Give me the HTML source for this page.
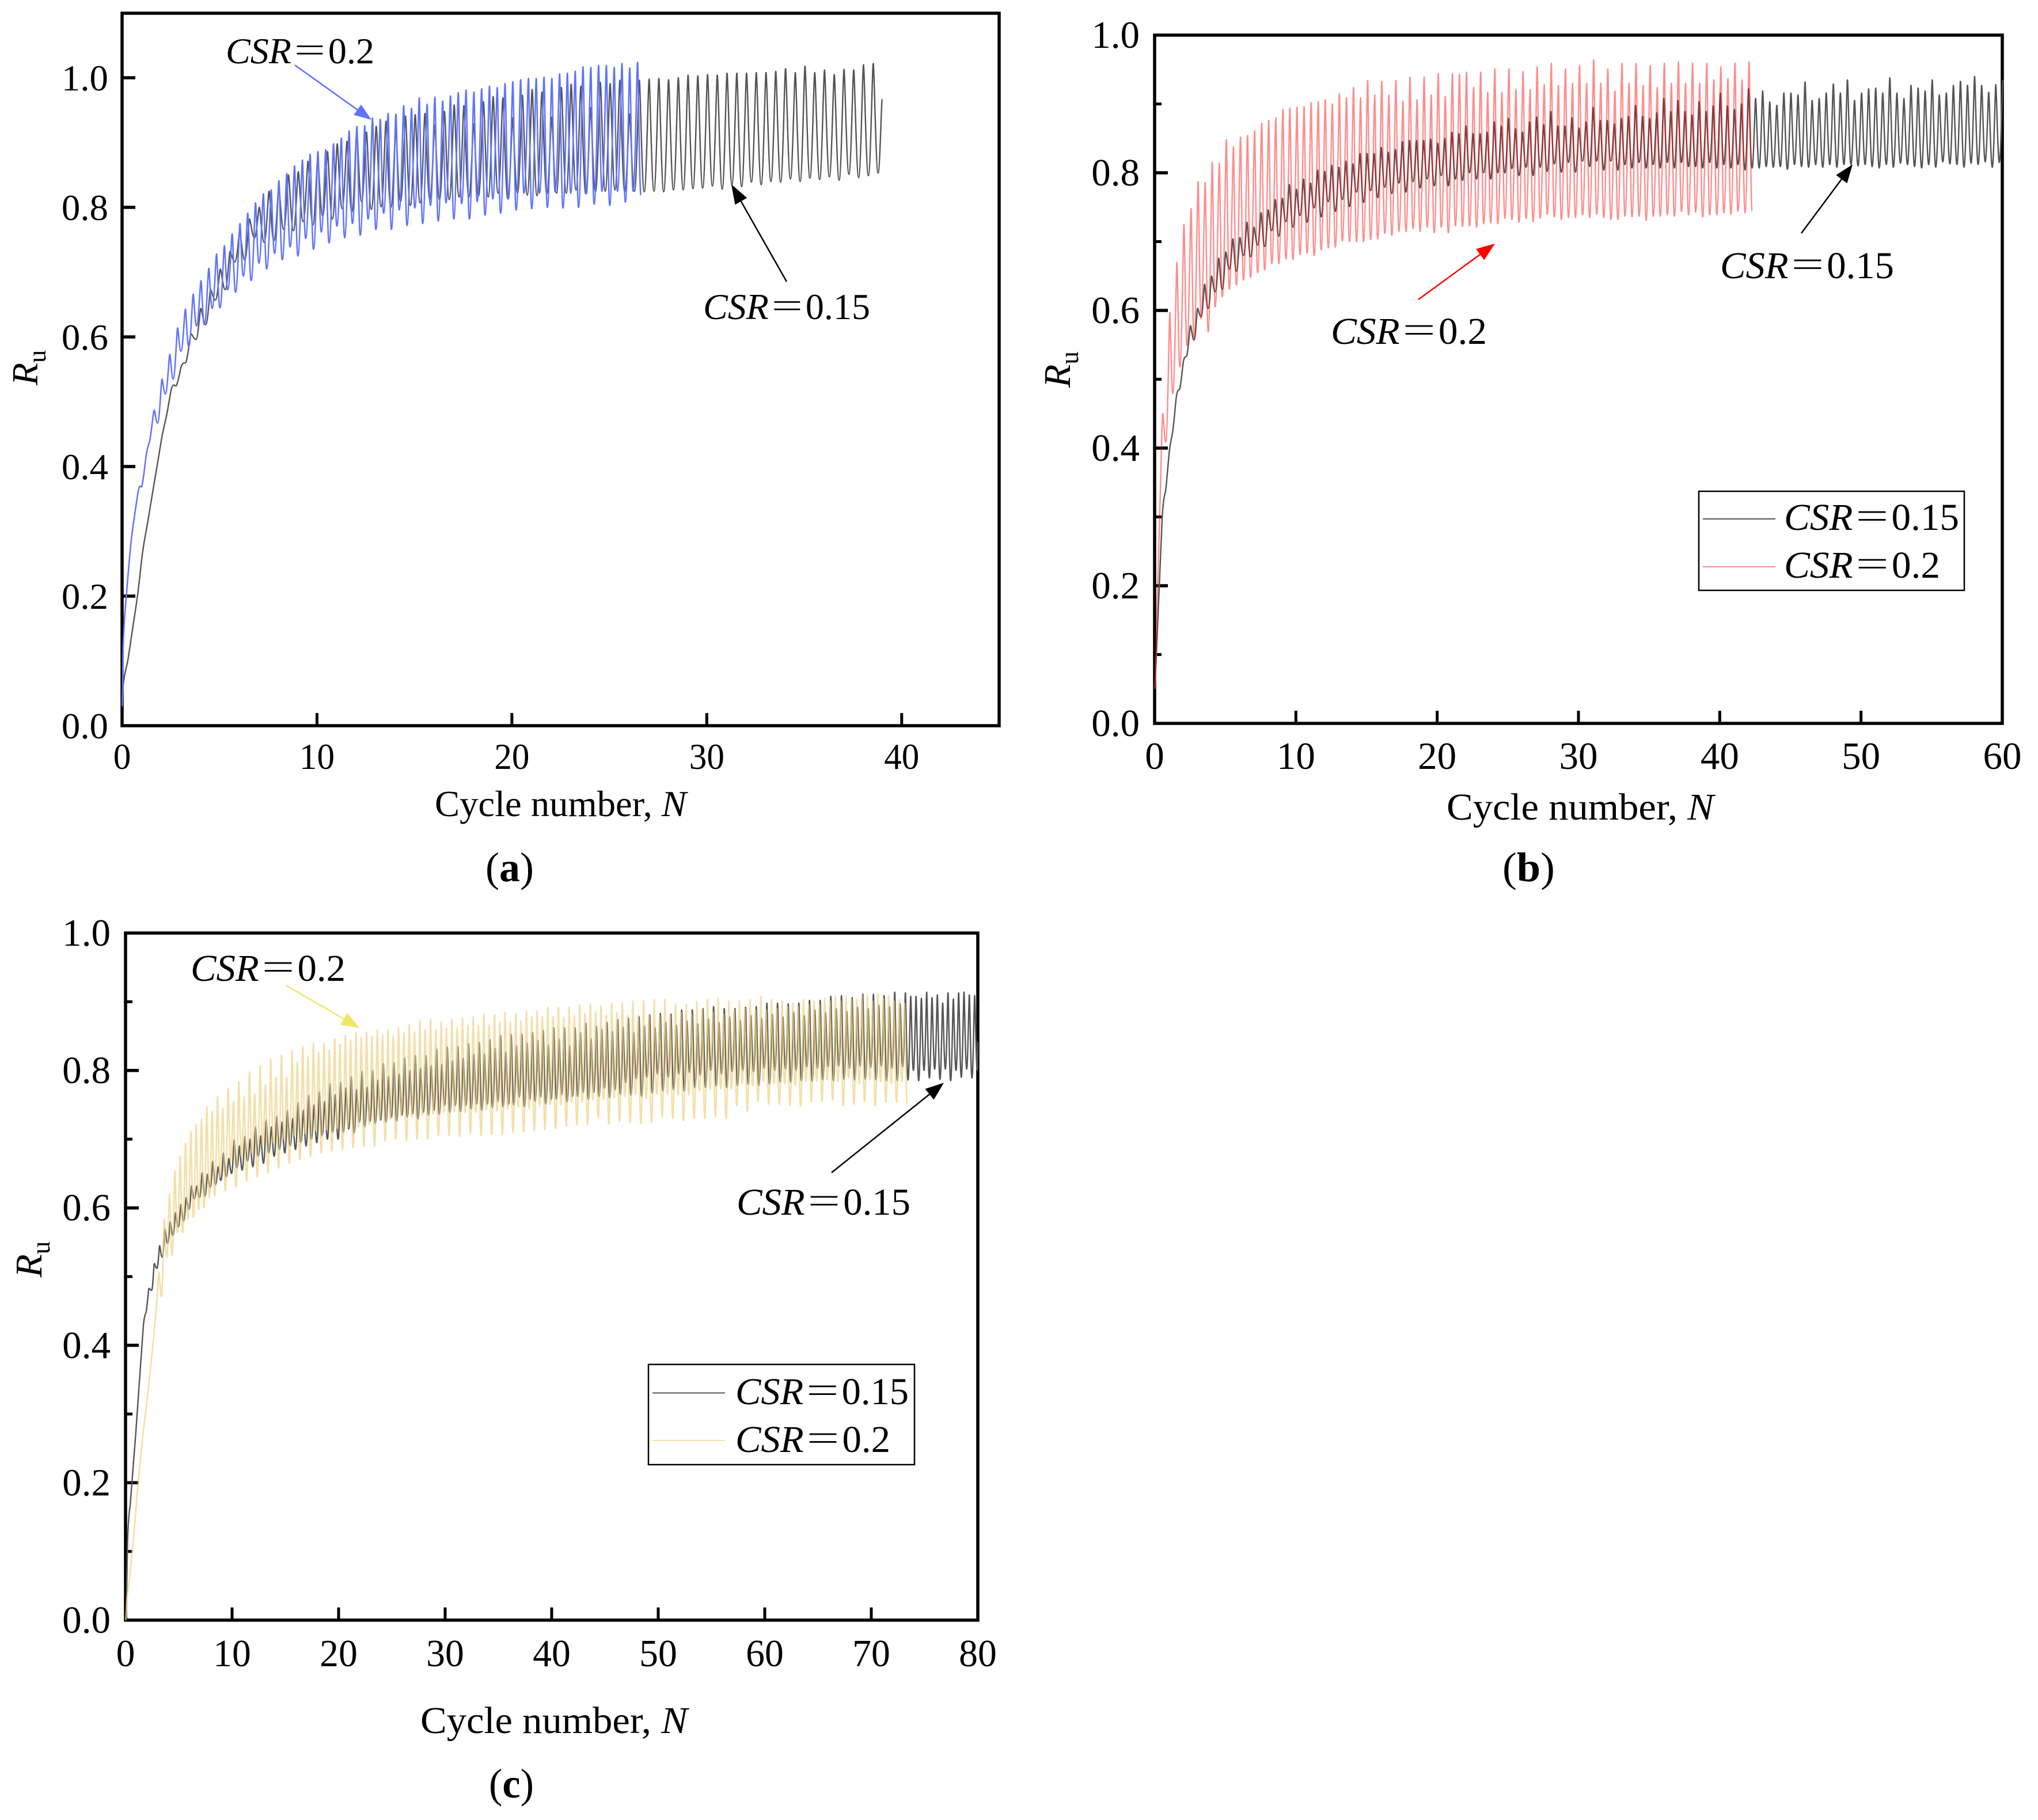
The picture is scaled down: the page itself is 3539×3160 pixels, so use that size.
<!DOCTYPE html>
<html lang="en">
<head>
<meta charset="utf-8">
<title>Pore pressure ratio versus cycle number</title>
<style>
html,body{margin:0;padding:0;background:#fff;width:3539px;height:3160px;overflow:hidden}
svg{display:block}
text{font-family:"Liberation Serif","Noto Serif CJK SC",serif;fill:#000}
.i{font-style:italic}
.b{font-weight:bold}
</style>
</head>
<body>
<svg id="figure" xmlns="http://www.w3.org/2000/svg" width="3539" height="3160" viewBox="0 0 3539 3160">
<rect x="0" y="0" width="3539" height="3160" fill="#fff"/>
<g id="panel-a"></g>
<g id="panel-b"></g>
<g id="panel-c"></g>

<text x="755" y="1417" font-size="63" textLength="437" lengthAdjust="spacingAndGlyphs">Cycle number, <tspan class="i">N</tspan></text>
<text x="2512" y="1423" font-size="66" textLength="464" lengthAdjust="spacingAndGlyphs">Cycle number, <tspan class="i">N</tspan></text>
<text x="730" y="3009" font-size="66" textLength="464" lengthAdjust="spacingAndGlyphs">Cycle number, <tspan class="i">N</tspan></text>

<text transform="translate(65 669) rotate(-90)" font-size="64"><tspan class="i">R</tspan><tspan font-size="44" dy="14">u</tspan></text>
<text transform="translate(1858 673) rotate(-90)" font-size="66"><tspan class="i">R</tspan><tspan font-size="45" dy="14">u</tspan></text>
<text transform="translate(72 2218) rotate(-90)" font-size="66"><tspan class="i">R</tspan><tspan font-size="45" dy="14">u</tspan></text>

<text x="843" y="1530" font-size="72" textLength="84" lengthAdjust="spacingAndGlyphs">(<tspan class="b">a</tspan>)</text>
<text x="2609" y="1530" font-size="72" textLength="91" lengthAdjust="spacingAndGlyphs">(<tspan class="b">b</tspan>)</text>
<text x="849" y="3121" font-size="72" textLength="78" lengthAdjust="spacingAndGlyphs">(<tspan class="b">c</tspan>)</text>

<text x="392" y="110" font-size="63" textLength="258" lengthAdjust="spacingAndGlyphs"><tspan class="i">CSR</tspan>＝0.2</text>
<text x="1221" y="554" font-size="63" textLength="290" lengthAdjust="spacingAndGlyphs"><tspan class="i">CSR</tspan>＝0.15</text>
<text x="2311" y="597" font-size="66" textLength="271" lengthAdjust="spacingAndGlyphs"><tspan class="i">CSR</tspan>＝0.2</text>
<text x="2987" y="483" font-size="66" textLength="302" lengthAdjust="spacingAndGlyphs"><tspan class="i">CSR</tspan>＝0.15</text>
<text x="331" y="1703" font-size="66" textLength="269" lengthAdjust="spacingAndGlyphs"><tspan class="i">CSR</tspan>＝0.2</text>
<text x="1279" y="2109" font-size="66" textLength="302" lengthAdjust="spacingAndGlyphs"><tspan class="i">CSR</tspan>＝0.15</text>

<g>
<rect x="2950" y="853" width="461" height="172" fill="none" stroke="#000" stroke-width="2.5"/>
<line x1="2957" y1="901" x2="3083" y2="901" stroke="#555" stroke-width="2"/>
<line x1="2957" y1="984" x2="3083" y2="984" stroke="#ff8c8c" stroke-width="2"/>
<text x="3098" y="920" font-size="66" textLength="304" lengthAdjust="spacingAndGlyphs"><tspan class="i">CSR</tspan>＝0.15</text>
<text x="3098" y="1003" font-size="66" textLength="271" lengthAdjust="spacingAndGlyphs"><tspan class="i">CSR</tspan>＝0.2</text>
</g>
<g>
<rect x="1126" y="2369" width="462" height="174" fill="none" stroke="#000" stroke-width="2.5"/>
<line x1="1133" y1="2418.5" x2="1259" y2="2418.5" stroke="#555" stroke-width="2"/>
<line x1="1133" y1="2501" x2="1259" y2="2501" stroke="#f5dfa8" stroke-width="2"/>
<text x="1277" y="2438" font-size="66" textLength="301" lengthAdjust="spacingAndGlyphs"><tspan class="i">CSR</tspan>＝0.15</text>
<text x="1277" y="2521" font-size="66" textLength="269" lengthAdjust="spacingAndGlyphs"><tspan class="i">CSR</tspan>＝0.2</text>
</g>
</svg>

<script>
// Tick labels
const ruTicksA = [0, 0.2, 0.4, 0.6, 0.8, 1.0];
const ruTicks = [0, 0.2, 0.4, 0.6, 0.8, 1.0];
const ruMinorTicks = [0.1, 0.3, 0.5, 0.7, 0.9];
const cycleTicksA = [0, 10, 20, 30, 40];
const cycleTicksB = [0, 10, 20, 30, 40, 50, 60];
const cycleTicksC = [0, 10, 20, 30, 40, 50, 60, 70, 80];

// Panel (a): per-half-cycle extreme values
const aBlackPeaks = [.06,.15,.265,.355,.445,.521,.555,.605,.644,.673,.705,.732,.762,.782,.8,.825,.83,.85,.855,.871,.875,.886,.898,.902,.918,.916,
.925,.933,.92,.941,.943,.945,.927,.948,.958,.957,.929,.963,.971,.969,.938,.973,.982,.978,.939,.985,.99,.987,.954,.993,.991,.996,.944,.996,.998,
.999,.997,1.0,1.004,1.003,1.005,1.004,1.007,1.007,1.007,1.008,1.008,1.01,1.014,1.008,1.018,1.008,1.012,1.005,1.013,1.012,1.02,1.022];
const aBlackTroughs = [.1,.2,.31,.4,.48,.525,.562,.596,.619,.657,.673,.716,.719,.753,.746,.748,.766,.764,.778,.773,.787,.782,.798,.793,.809,
.797,.801,.8,.809,.803,.807,.812,.812,.812,.816,.816,.818,.816,.822,.813,.822,.819,.818,.821,.822,.822,.827,.821,.824,.825,.827,.824,.825,.824,.825,
.824,.827,.827,.829,.83,.833,.828,.835,.832,.839,.835,.84,.839,.844,.84,.845,.843,.847,.842,.851,.846,.849,.853];
const aBluePeaks = [.12,.28,.365,.42,.487,.535,.573,.614,.643,.666,.687,.706,.728,.741,.759,.775,.791,.807,.821,.827,.841,.852,.864,.873,.882,.886,.889,.898,.907,.918,.925,.926,
.938,.936,.945,.944,.957,.953,.969,.959,.97,.964,.972,.977,.981,.978,.983,.987,.985,.991,.994,.997,.999,.999,1.001,.999,1.006,1.007,1.01,1.017,1.016,1.019,1.019,1.016,1.022,1.015,1.024];
const aBlueTroughs = [.2,.32,.37,.44,.467,.512,.535,.578,.585,.617,.619,.644,.645,.673,.669,.694,.687,.714,.705,.729,.719,.739,.725,.752,.735,.762,.745,.771,.753,.775,.757,.782,
.766,.791,.766,.796,.772,.799,.775,.803,.779,.807,.782,.806,.782,.809,.788,.813,.791,.813,.796,.822,.798,.822,.8,.824,.799,.822,.8,.821,.805,.825,.803,.825,.808,.825,.819];

// Panel (b)
const bBlackPeaks = [.06,.3,.395,.475,.526,.578,.603,.638,.65,.676,.685,.704,.706,.728,.721,.742,.746,.761,.763,.783,.776,.791,.785,.804,.802,.811,.808,.817,.813,.828,.828,.828,.837,.83,.834,.845,.847,.847,.847,.849,.843,.85,.859,.857,.868,.857,.857,.859,.874,.868,.879,.864,.859,.874,.881,.87,.889,
.868,.868,.88,.865,.874,.895,.876,.876,.871,.879,.882,.898,.882,.879,.887,.908,.889,.905,.889,.884,.903,.889,.897,.916,.897,.892,.9,.922,
.908,.919,.903,.898,.916,.916,.913,.932,.905,.908,.916,.929,.916,.935,.905,.916,.922,.923,.916,.938,.916,.908,.927,.923,.919,.935,.913,.916,.927,.933,.927,.94,.927,.917,.928,.935];
const bBlackTroughs = [.18,.34,.425,.487,.535,.557,.591,.603,.627,.631,.66,.657,.68,.678,.695,.693,.716,.708,.729,.721,.738,.728,.749,.736,.758,.744,.761,.751,.772,.757,.774,.764,.779,.77,.785,.772,.787,.778,.791,.781,.796,.781,.791,.789,.8,.791,.8,.791,.8,.8,.806,.796,.808,.796,.808,.802,.813,
.801,.815,.801,.817,.809,.817,.804,.817,.804,.812,.807,.815,.807,.812,.807,.815,.807,.815,.809,.809,.807,.815,.807,.812,.807,.812,.804,.807,
.807,.809,.808,.809,.805,.812,.809,.808,.812,.808,.812,.808,.812,.812,.81,.812,.809,.807,.812,.808,.814,.812,.809,.807,.812,.808,.816,.813,.812,.808,.814,.812,.816,.808,.815];
const bRedPeaks = [.1,.45,.597,.67,.725,.748,.787,.786,.815,.814,.848,.838,.852,.854,.861,.872,.876,.88,.892,.894,.895,.896,.902,.903,.906,.9,.915,.909,.924,.909,.934,.913,.933,.913,.934,.904,.939,.906,.939,.913,.944,.911,.944,.943,.946,.924,.946,.917,.951,.917,.951,.921,.947,.921,.954,.928,.959,
.927,.951,.93,.956,.93,.964,.93,.951,.919,.959,.93,.959,.927,.956,.924,.959,.93,.961,.93,.959,.93,.959,.935,.954,.937,.959,.935,.961];
const bRedTroughs = [.25,.409,.479,.518,.549,.558,.588,.569,.605,.62,.631,.637,.644,.648,.655,.659,.668,.668,.675,.674,.681,.683,.68,.688,.691,.692,.701,.7,.7,.7,.703,.704,.712,.709,.715,.715,.719,.715,.721,.713,.721,.713,.723,.722,.723,.721,.726,.727,.726,.734,.732,.728,.734,.729,.734,.74,.736,
.732,.735,.735,.739,.735,.74,.735,.732,.732,.737,.736,.737,.731,.737,.737,.739,.737,.744,.739,.743,.736,.739,.739,.742,.74,.744,.742,.745];

// Panel (c)
const cBlackPeaks = [.12,.22,.325,.432,.483,.519,.545,.569,.58,.593,.605,.615,.632,.632,.651,.649,.668,.66,.68,.672,.699,.69,.704,.7,.718,.705,.728,.718,.733,.725,.742,.73,.753,.742,.764,.75,.769,.755,.781,.765,.783,.775,
.791,.772,.799,.776,.8,.786,.81,.791,.811,.795,.818,.8,.822,.803,.822,.807,.831,.809,.834,.814,.835,.818,.839,.824,.841,.824,.845,.832,.851,.827,.852,.836,.853,.84,.855,.844,.858,.837,.862,.846,.862,.836,.862,.855,.869,.846,.864,.86,.87,.857,.874,.863,.876,.855,.878,
.865,.881,.862,.883,.87,.882,.866,.888,.872,.888,.868,.89,.875,.893,.87,.89,.878,.89,.873,.892,.88,.893,.876,.898,.882,.898,.878,.897,.885,.898,.88,.902,.888,.902,.884,.908,.89,.909,.886,.906,.892,.911,.89,.911,.895,.909,.893,.914,.897,.913,
.908,.908,.905,.914,.906,.91,.898,.913,.904,.913,.914,.91,.909];
const cBlackTroughs = [.17,.27,.38,.45,.48,.512,.528,.548,.56,.572,.581,.598,.613,.615,.617,.63,.634,.64,.645,.65,.658,.655,.668,.66,.675,.665,.68,.675,.685,.68,.69,.685,.695,.69,.7,.695,.705,.7,.71,.7,.71,.715,
.709,.725,.718,.726,.723,.728,.725,.732,.726,.735,.732,.737,.729,.739,.735,.742,.736,.749,.739,.749,.74,.749,.744,.751,.742,.751,.746,.755,.747,.751,.75,.761,.747,.758,.755,.761,.751,.758,.758,.765,.754,.762,.762,.768,.758,.768,.762,.774,.76,.772,.765,.782,.764,.788,.762,
.79,.767,.795,.77,.79,.772,.795,.77,.797,.775,.793,.775,.8,.777,.795,.775,.798,.778,.8,.78,.798,.778,.803,.78,.8,.783,.802,.783,.8,.785,.805,.784,.803,.786,.805,.785,.806,.787,.803,.786,.806,.787,.804,.786,.806,.785,.803,.785,.805,.786,.8,.785,.8,.789,.802,.787,.802,.785,.8,.79,.802,.789,.801];
const cYellowPeaks = [.03,.1,.19,.27,.335,.41,.507,.584,.62,.654,.675,.694,.711,.721,.73,.747,.74,.762,.745,.774,.755,.784,.762,.798,.766,.807,.779,.816,.79,.822,.79,.829,.812,.835,.82,.839,.826,.84,.83,.846,.838,.851,
.844,.855,.848,.856,.849,.859,.852,.859,.851,.862,.855,.867,.856,.873,.859,.875,.86,.871,.861,.875,.862,.876,.866,.878,.865,.882,.866,.881,.87,.885,.871,.883,.872,.887,.878,.887,.878,.892,.878,.892,.877,.892,.88,.896,.883,.897,.885,.894,.88,.898,.885,.899,.88,.901,.88,.902,
.881,.903,.88,.903,.88,.897,.885,.896,.882,.9,.89,.903,.885,.905,.882,.901,.888,.901,.89,.903,.888,.908,.888,.903,.89,.901,.893,.898,.893,.903,.896,.901,.896,.905,.901,.908,.901,.908,.904,.904,.909,.909,.901,.912,.904,.909,.901,.903,.898];
const cYellowTroughs = [.06,.14,.23,.3,.37,.45,.471,.528,.531,.564,.564,.584,.586,.598,.6,.615,.617,.645,.625,.668,.63,.675,.639,.68,.645,.69,.651,.695,.658,.7,.665,.705,.67,.708,.675,.712,.68,.714,.683,.716,.685,.717,
.688,.718,.69,.722,.69,.728,.697,.729,.7,.733,.698,.732,.7,.734,.7,.737,.705,.739,.705,.74,.704,.739,.708,.739,.705,.743,.707,.741,.707,.744,.71,.747,.711,.745,.713,.749,.714,.751,.715,.75,.719,.754,.721,.754,.721,.757,.731,.758,.722,.76,.726,.762,.724,.765,.723,.759,
.725,.765,.733,.765,.73,.765,.727,.765,.73,.77,.73,.773,.733,.773,.73,.773,.749,.781,.741,.778,.755,.784,.751,.781,.751,.781,.749,.778,.748,.784,.754,.784,.755,.786,.757,.784,.749,.789,.751,.781,.755,.786,.749,.784,.754,.781,.754,.784,.751];

const svgNS = 'http://www.w3.org/2000/svg';

function makePanel(host, x0, x1, xMax, yZero, yOne) {
  return {
    host: host,
    x: function (n) { return x0 + n * (x1 - x0) / xMax; },
    y: function (r) { return yZero - r * (yZero - yOne); },
    x0: x0, x1: x1, yZero: yZero
  };
}

function addFrame(p, yTop) {
  const f = document.createElementNS(svgNS, 'rect');
  
  
  f.setAttribute('x', p.x0);
  f.setAttribute('y', yTop);
  f.setAttribute('width', p.x1 - p.x0);
  f.setAttribute('height', p.yZero - yTop);
  f.setAttribute('fill', 'none');
  f.setAttribute('stroke', '#000');
  f.setAttribute('stroke-width', '5.5');
  p.host.appendChild(f);
}

function addTickLine(p, x1, y1, x2, y2, w, name) {
  const t = document.createElementNS(svgNS, 'line');
  
  
  t.setAttribute('x1', x1);
  t.setAttribute('y1', y1);
  t.setAttribute('x2', x2);
  t.setAttribute('y2', y2);
  t.setAttribute('stroke', '#000');
  t.setAttribute('stroke-width', w);
  p.host.appendChild(t);
}

function addLabel(p, x, y, str, size, squeeze, anchor, name) {
  const t = document.createElementNS(svgNS, 'text');
  
  
  t.setAttribute('x', x);
  t.setAttribute('y', y);
  t.setAttribute('font-size', size);
  t.setAttribute('text-anchor', anchor);
  t.textContent = str;
  p.host.appendChild(t);
  const len = t.getComputedTextLength();
  t.setAttribute('textLength', (len * squeeze).toFixed(1));
  t.setAttribute('lengthAdjust', 'spacingAndGlyphs');
}

function addAxes(p, xTicks, yTicks, yMinor, size, xSqueeze, ySqueeze, xBase, yRight) {
  xTicks.forEach(function (v) {
    if (v > 0 && p.x(v) < p.x1 - 1) addTickLine(p, p.x(v), p.yZero, p.x(v), p.yZero - 22, 5, 'x-tick-' + v);
    addLabel(p, p.x(v), xBase, String(v), size, xSqueeze, 'middle', 'x-tick-label-' + v);
  });
  yTicks.forEach(function (v) {
    if (v > 0 && v < 1 || (v === 1 && yRight.showTop)) addTickLine(p, p.x0, p.y(v), p.x0 + 23, p.y(v), 5.5, 'y-tick-' + v);
    addLabel(p, yRight.x, p.y(v) + 22, v.toFixed(1), size, ySqueeze, 'end', 'y-tick-label-' + v);
  });
  yMinor.forEach(function (v) {
    addTickLine(p, p.x0, p.y(v), p.x0 + 12, p.y(v), 5, 'y-minor-tick-' + v);
  });
}

function plotSeries(p, peaks, troughs, start, step, troughAt, first, last, style, name) {
  const pts = [[p.x(first[0]), p.y(first[1])]];
  for (let i = 0; i < peaks.length; i++) {
    const n = start + step * i;
    pts.push([p.x(n), p.y(peaks[i])]);
    if (i < troughs.length) {
      pts.push([p.x(n + troughAt), p.y(troughs[i])]);
    }
  }
  if (last) pts.push([p.x(last[0]), p.y(last[1])]);
  function slope(i) {
    if (i === 0 || i === pts.length - 1) return 0;
    const a = pts[i - 1], b = pts[i], c = pts[i + 1];
    if ((b[1] - a[1]) * (c[1] - b[1]) <= 0) return 0;
    return (c[1] - a[1]) / (c[0] - a[0]);
  }
  let d = 'M' + pts[0][0].toFixed(1) + ' ' + pts[0][1].toFixed(1);
  for (let i = 0; i < pts.length - 1; i++) {
    const A = pts[i], B = pts[i + 1], dx = B[0] - A[0];
    const kA = A[1] > B[1] ? style.bottomRound : style.topRound;
    const kB = B[1] > A[1] ? style.bottomRound : style.topRound;
    d += 'C' + (A[0] + kA * dx).toFixed(1) + ' ' + (A[1] + kA * dx * slope(i)).toFixed(1) +
      ' ' + (B[0] - kB * dx).toFixed(1) + ' ' + (B[1] - kB * dx * slope(i + 1)).toFixed(1) +
      ' ' + B[0].toFixed(1) + ' ' + B[1].toFixed(1);
  }
  const el = document.createElementNS(svgNS, 'path');
  
  
  el.setAttribute('d', d);
  el.setAttribute('fill', 'none');
  el.setAttribute('stroke', style.color);
  el.setAttribute('stroke-width', style.width);
  el.setAttribute('stroke-opacity', style.opacity);
  el.setAttribute('stroke-linejoin', 'round');
  p.host.appendChild(el);
}

function addArrow(p, tx, ty, hx, hy, color, headLen, headW, name) {
  const dx = hx - tx, dy = hy - ty, L = Math.hypot(dx, dy);
  const ux = dx / L, uy = dy / L;
  const bx = hx - ux * headLen, by = hy - uy * headLen;
  const ln = document.createElementNS(svgNS, 'line');
  
  
  ln.setAttribute('x1', tx);
  ln.setAttribute('y1', ty);
  ln.setAttribute('x2', bx);
  ln.setAttribute('y2', by);
  ln.setAttribute('stroke', color);
  ln.setAttribute('stroke-width', '2.5');
  p.host.appendChild(ln);
  const hd = document.createElementNS(svgNS, 'polygon');
  
  
  const pts = [hx, hy, bx - uy * headW / 2, by + ux * headW / 2, bx + uy * headW / 2, by - ux * headW / 2];
  hd.setAttribute('points', pts.map(function (v) { return v.toFixed(1); }).join(' '));
  hd.setAttribute('fill', color);
  p.host.appendChild(hd);
}

const panelA = makePanel(document.getElementById('panel-a'), 212, 1735, 45, 1260, 135);
const panelB = makePanel(document.getElementById('panel-b'), 2005, 3477, 60, 1256, 61);
const panelC = makePanel(document.getElementById('panel-c'), 218, 1698, 80, 2813, 1620);

addFrame(panelA, 23);
addAxes(panelA, cycleTicksA, ruTicksA, [], 63, 0.97, 1.03, 1335, { x: 188, showTop: true });
plotSeries(panelA, aBlackPeaks, aBlackTroughs, 0.04, 0.5, 0.25, [0, 0.03], [39, 0.967], { color: '#555', width: 2.4, opacity: 1, topRound: 0.2, bottomRound: 0.45 }, 'series-csr-0-15');
plotSeries(panelA, aBluePeaks, aBlueTroughs, 0.05, 0.4, 0.17, [0, 0.03], null, { color: '#5f73ff', width: 2.5, opacity: 1, topRound: 0.2, bottomRound: 0.45 }, 'series-csr-0-2');
addArrow(panelA, 512, 113, 645, 208, '#5f73ff', 30, 22, 'arrow-csr-0-2');
addArrow(panelA, 1366, 489, 1270, 320, '#000', 34, 24, 'arrow-csr-0-15');

addFrame(panelB, 61);
addAxes(panelB, cycleTicksB, ruTicks, ruMinorTicks, 67, 1, 1, 1335, { x: 1979, showTop: false });
plotSeries(panelB, bBlackPeaks, bBlackTroughs, 0.04, 0.5, 0.25, [0, 0.05], null, { color: '#555', width: 2.4, opacity: 1, topRound: 0.2, bottomRound: 0.45 }, 'series-csr-0-15');
plotSeries(panelB, bRedPeaks, bRedTroughs, 0.08, 0.5, 0.21, [0, 0.05], null, { color: '#ff0000', width: 2.4, opacity: 0.45, topRound: 0.2, bottomRound: 0.45 }, 'series-csr-0-2');
addArrow(panelB, 2463, 520, 2596, 423, '#ff0000', 32, 24, 'arrow-csr-0-2');
addArrow(panelB, 3128, 405, 3217, 285.5, '#000', 32, 24, 'arrow-csr-0-15');

addFrame(panelC, 1620);
addAxes(panelC, cycleTicksC, ruTicks, ruMinorTicks, 67, 0.98, 1, 2893, { x: 192, showTop: false });
plotSeries(panelC, cBlackPeaks, cBlackTroughs, 0.2, 0.5, 0.25, [0, 0], [80, 0.842], { color: '#555', width: 2.4, opacity: 1, topRound: 0.2, bottomRound: 0.45 }, 'series-csr-0-15');
plotSeries(panelC, cYellowPeaks, cYellowTroughs, 0.13, 0.5, 0.235, [0, 0], null, { color: '#f1d183', width: 2.6, opacity: 0.7, topRound: 0.2, bottomRound: 0.45 }, 'series-csr-0-2');
addArrow(panelC, 497, 1711, 624.5, 1785, '#eee86a', 32, 24, 'arrow-csr-0-2');
addArrow(panelC, 1444, 2036, 1639, 1880, '#000', 32, 24, 'arrow-csr-0-15');
</script>
</body>
</html>
